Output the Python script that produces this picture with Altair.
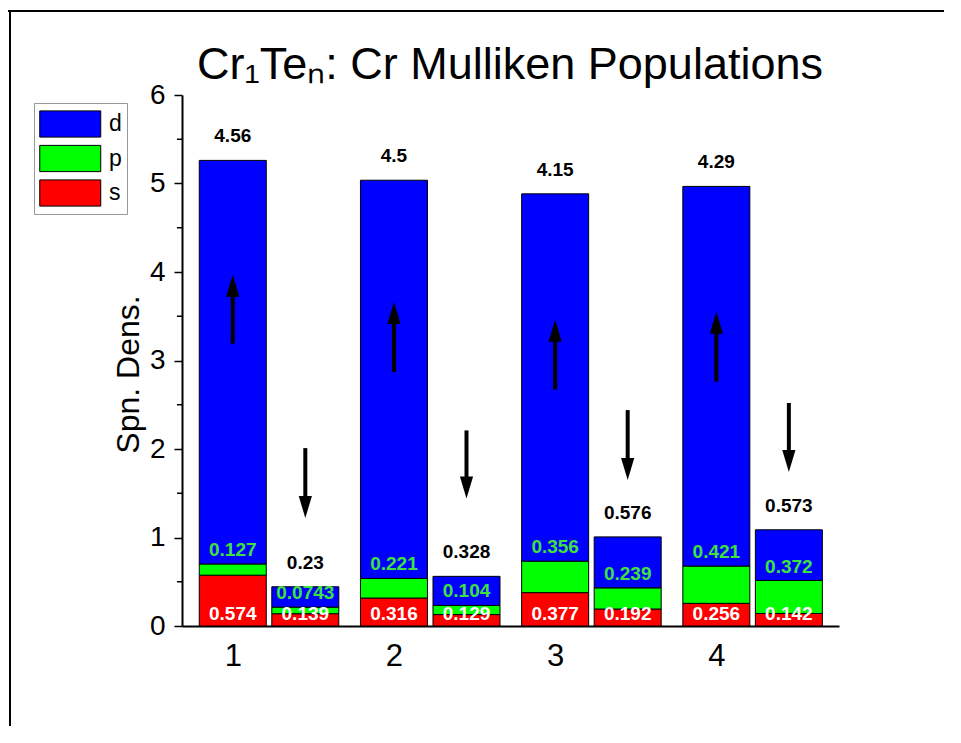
import altair as alt
import pandas as pd

# ---------------- data ----------------
groups = [1, 2, 3, 4]
components = ["d", "p", "s"]
comp_colors = ["#0000ff", "#00ff00", "#ff0000"]

s_up = [0.574, 0.316, 0.377, 0.256]
p_up = [0.127, 0.221, 0.356, 0.421]
d_up = [4.56, 4.5, 4.15, 4.29]

s_dn = [0.139, 0.129, 0.192, 0.142]
p_dn = [0.0743, 0.104, 0.239, 0.372]
d_dn = [0.23, 0.328, 0.576, 0.573]

# spin arrows (tail value, tip value)
up_tail = [3.19, 2.87, 2.67, 2.76]
up_tip = [3.97, 3.66, 3.46, 3.55]
dn_tail = [2.01, 2.21, 2.44, 2.52]
dn_tip = [1.22, 1.44, 1.65, 1.74]

y_ticks = [0, 1, 2, 3, 4, 5, 6]
y_minor = [0.5, 1.5, 2.5, 3.5, 4.5, 5.5]
x_ticks = [1, 2, 3, 4]

title_text = "Cr\u2081Te\u2099: Cr Mulliken Populations"
y_title = "Spn. Dens."

DOWN_SHIFT = 0.45
FONT = "Liberation Sans"

# ---------------- tables ----------------
rows = []
for i, n in enumerate(groups):
    for spin, s, p, d in [("up", s_up[i], p_up[i], d_up[i]),
                          ("down", s_dn[i], p_dn[i], d_dn[i])]:
        x = n + (DOWN_SHIFT if spin == "down" else 0)
        for comp, lo, hi, val in [("s", 0, s, s), ("p", s, s + p, p), ("d", s + p, s + p + d, d)]:
            rows.append(dict(x=x, comp=comp, y0=lo, y1=hi, label=str(val), spin=spin,
                             ly=(0 if comp == "s" else hi)))
bars_df = pd.DataFrame(rows)

arr_rows = []
for i, n in enumerate(groups):
    arr_rows.append(dict(x=n, tail=up_tail[i], tip=up_tip[i], dir="up"))
    arr_rows.append(dict(x=n + DOWN_SHIFT, tail=dn_tail[i], tip=dn_tip[i], dir="down"))
arrows_df = pd.DataFrame(arr_rows)

xscale = alt.Scale(domain=[0.716, 4.73], nice=False, zero=False)
yscale = alt.Scale(domain=[0, 6], nice=False)

X_AX = alt.Axis(values=x_ticks, title=None, tickSize=0, labelPadding=15,
                labelFontSize=31, labelFont=FONT, labelColor="black",
                domainColor="black", domainWidth=2, grid=False, format="d")
Y_AX = alt.Axis(values=y_ticks, title=y_title, tickSize=8, tickWidth=1.5,
                tickColor="black", labelPadding=9, labelFontSize=28,
                labelFont=FONT, labelColor="black", domainColor="black",
                domainWidth=2, grid=False, titleFont=FONT, titleFontSize=32,
                titleFontWeight="normal", titleColor="black", titleAngle=270,
                titleX=-54, titleY=279, titleAlign="center", titleBaseline="middle")

def X(field):
    return alt.X(field, scale=xscale, axis=X_AX)

def Y(field):
    return alt.Y(field, scale=yscale, axis=Y_AX)

bars = alt.Chart(bars_df).mark_bar(width=67, stroke="black", strokeWidth=1, opacity=1).encode(
    x=X("x:Q"),
    y=Y("y0:Q"),
    y2="y1:Q",
    color=alt.Color("comp:N",
                    scale=alt.Scale(domain=components, range=comp_colors),
                    legend=alt.Legend(title=None, orient="none", legendX=-148, legendY=8,
                                      symbolType="M-1,-0.86L3,-0.86L3,0.86L-1,0.86Z",
                                      symbolSize=930, symbolStrokeColor="black",
                                      symbolStrokeWidth=1, symbolOpacity=1,
                                      labelFontSize=23, labelFont=FONT, labelColor="black",
                                      labelOffset=38, rowPadding=2.5, padding=5,
                                      strokeColor="#999999", fillColor="white")),
    order=alt.Order("y0:Q"),
)

def label_layer(comp, color, dy):
    return alt.Chart(bars_df).transform_filter(alt.datum.comp == comp).mark_text(
        font=FONT, fontSize=19, fontWeight="bold", color=color, dy=dy, baseline="middle"
    ).encode(
        x=X("x:Q"),
        y=Y("ly:Q"),
        text="label:N",
    )

lab_s = label_layer("s", "white", -12)
lab_p = label_layer("p", "#3ee23e", -14)
lab_d = label_layer("d", "black", -24)

shafts = alt.Chart(arrows_df).transform_calculate(
    base="datum.dir == 'up' ? datum.tip - 0.15 : datum.tip + 0.15"
).mark_rule(color="black", strokeWidth=4, strokeCap="butt").encode(
    x=X("x:Q"),
    y=Y("tail:Q"),
    y2="base:Q",
)

def head_layer(direction, path):
    return alt.Chart(arrows_df).transform_filter(alt.datum.dir == direction).mark_point(
        shape=path, size=484, filled=True, color="black", opacity=1, strokeWidth=0
    ).encode(
        x=X("x:Q"),
        y=Y("tip:Q"),
    )

heads_up = head_layer("up", "M0,0L0.6,2L-0.6,2Z")
heads_dn = head_layer("down", "M0,0L0.6,-2L-0.6,-2Z")

minor = alt.Chart(pd.DataFrame({"m": y_minor})).mark_rule(color="black", strokeWidth=1.5).encode(
    y=Y("m:Q"),
    x=alt.value(-5),
    x2=alt.value(0),
)

one = pd.DataFrame({"t": [title_text]})
title = alt.Chart(one).mark_text(
    font=FONT, fontSize=45, color="black", align="center", baseline="alphabetic"
).encode(x=alt.value(328), y=alt.value(-16), text="t:N")

frame_top = alt.Chart(one).mark_rule(color="black", strokeWidth=2).encode(
    x=alt.value(-174), x2=alt.value(770), y=alt.value(-84))
frame_left = alt.Chart(one).mark_rule(color="black", strokeWidth=2).encode(
    x=alt.value(-172), y=alt.value(-84), y2=alt.value(640))

chart = alt.layer(
    bars, lab_s, lab_p, lab_d, shafts, heads_up, heads_dn, minor, title, frame_top, frame_left
).properties(
    width=657, height=531,
    background="white",
    autosize=alt.AutoSizeParams(type="none"),
    padding={"left": 174, "top": 87, "right": 105, "bottom": 100},
).configure_view(stroke=None)

chart.save("out.html", embed_options={"renderer": "svg", "actions": False})
